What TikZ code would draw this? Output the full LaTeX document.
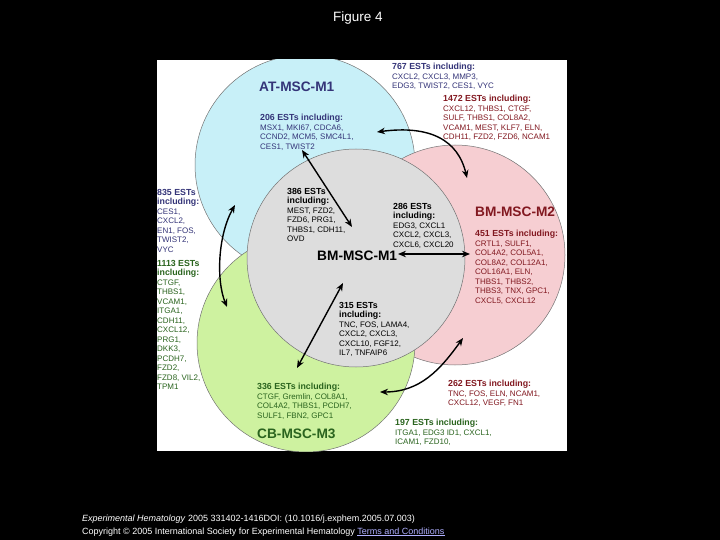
\documentclass[tikz,border=0pt]{standalone}
\usepackage{fontspec}
\setmainfont{Liberation Sans}
\usetikzlibrary{positioning,arrows.meta}
\definecolor{atfill}{RGB}{200,240,248}
\definecolor{bmfill}{RGB}{221,221,221}
\definecolor{mtwofill}{RGB}{246,206,210}
\definecolor{cbfill}{RGB}{206,242,160}
\definecolor{atblue}{RGB}{52,52,120}
\definecolor{mtwored}{RGB}{130,24,32}
\definecolor{cbgreen}{RGB}{42,100,30}
\definecolor{linkblue}{RGB}{175,175,255}
\newcommand{\hd}[1]{{\fontsize{8.8}{9.5}\selectfont\bfseries #1}}
\tikzstyle{venn} = [draw=black!55, line width=0.5pt]
\tikzstyle{setname} = [anchor=west, inner sep=0pt, font=\fontsize{13.7}{15}\selectfont\bfseries]
\tikzstyle{estlist} = [anchor=north west, inner sep=0pt, align=left, font=\fontsize{8}{9.5}\selectfont]
\tikzstyle{connect} = [line width=1.4pt, {Stealth[length=8pt,width=6.5pt]}-{Stealth[length=8pt,width=6.5pt]}]

\begin{document}
\begin{tikzpicture}[x=1pt,y=-1pt]
			\useasboundingbox (0,0) rectangle (720,540);
			\fill [black] (0,0) rectangle (720,540);
			\fill [white] (157,60) rectangle (567,451);

			\begin{scope}
			\clip (157,60) rectangle (567,451);
			\filldraw [venn, fill=atfill] (305,165) circle (110);
			\filldraw [venn, fill=mtwofill] (455,255) circle (110);
			\filldraw [venn, fill=cbfill] (306,343) circle (109);
			\filldraw [venn, fill=bmfill] (356,258) circle (109);
			\end{scope}

			\node (title) [text=white, font=\fontsize{13.5}{15}\selectfont] at (358,18) {Figure 4};

			\node (atname) [setname, text=atblue] at (259,87) {AT-MSC-M1};
			\node (bmname) [setname] at (317,256) {BM-MSC-M1};
			\node (mtwoname) [setname, text=mtwored] at (475,212) {BM-MSC-M2};
			\node (cbname) [setname, text=cbgreen] at (257,434) {CB-MSC-M3};

			\node (at206) [estlist, text=atblue] at (260,114) {\hd{206 ESTs including:}\\MSX1, MKI67, CDCA6,\\CCND2, MCM5, SMC4L1,\\CES1, TWIST2};
			\node (at767) [estlist, text=atblue] at (392,63) {\hd{767 ESTs including:}\\CXCL2, CXCL3, MMP3,\\EDG3, TWIST2, CES1, VYC};
			\node (at835) [estlist, text=atblue] at (157,189) {\hd{835 ESTs}\\\hd{including:}\\CES1,\\CXCL2,\\EN1, FOS,\\TWIST2,\\VYC};
			\node (cb1113) [estlist, text=cbgreen] at (157,260) {\hd{1113 ESTs}\\\hd{including:}\\CTGF,\\THBS1,\\VCAM1,\\ITGA1,\\CDH11,\\CXCL12,\\PRG1,\\DKK3,\\PCDH7,\\FZD2,\\FZD8, VIL2,\\TPM1};
			\node (bm386) [estlist] at (287,188) {\hd{386 ESTs}\\\hd{including:}\\MEST, FZD2,\\FZD6, PRG1,\\THBS1, CDH11,\\OVD};
			\node (bm286) [estlist] at (393,203) {\hd{286 ESTs}\\\hd{including:}\\EDG3, CXCL1\\CXCL2, CXCL3,\\CXCL6, CXCL20};
			\node (bm315) [estlist] at (339,302) {\hd{315 ESTs}\\\hd{including:}\\TNC, FOS, LAMA4,\\CXCL2, CXCL3,\\CXCL10, FGF12,\\IL7, TNFAIP6};
			\node (mt451) [estlist, text=mtwored] at (475,230) {\hd{451 ESTs including:}\\CRTL1, SULF1,\\COL4A2, COL5A1,\\COL8A2, COL12A1,\\COL16A1, ELN,\\THBS1, THBS2,\\THBS3, TNX, GPC1,\\CXCL5, CXCL12};
			\node (mt1472) [estlist, text=mtwored] at (443,95) {\hd{1472 ESTs including:}\\CXCL12, THBS1, CTGF,\\SULF, THBS1, COL8A2,\\VCAM1, MEST, KLF7, ELN,\\CDH11, FZD2, FZD6, NCAM1};
			\node (mt262) [estlist, text=mtwored] at (448,380) {\hd{262 ESTs including:}\\TNC, FOS, ELN, NCAM1,\\CXCL12, VEGF, FN1};
			\node (cb336) [estlist, text=cbgreen] at (257,383) {\hd{336 ESTs including:}\\CTGF, Gremlin, COL8A1,\\COL4A2, THBS1, PCDH7,\\SULF1, FBN2, GPC1};
			\node (cb197) [estlist, text=cbgreen] at (395,419) {\hd{197 ESTs including:}\\ITGA1, EDG3 ID1, CXCL1,\\ICAM1, FZD10,};

			\coordinate (a1) at (302,150);
			\coordinate (a2) at (352,227);
			\coordinate (b1) at (377,132);
			\coordinate (b2) at (467,178);
			\coordinate (c1) at (398,254);
			\coordinate (c2) at (470,254);
			\coordinate (d1) at (235,205);
			\coordinate (d2) at (227,307);
			\coordinate (e1) at (343,283);
			\coordinate (e2) at (297,368);
			\coordinate (f1) at (463,338);
			\coordinate (f2) at (380,392);

			\draw [connect] (a1) -- (a2);
			\draw [connect] (b1) .. controls (430,125) and (458,140) .. (b2);
			\draw [connect] (c1) -- (c2);
			\draw [connect] (d1) .. controls (218,235) and (216,280) .. (d2);
			\draw [connect] (e1) -- (e2);
			\draw [connect] (f1) .. controls (440,370) and (420,392) .. (f2);

			\node (source) [anchor=base west, inner sep=0pt, text=white, font=\fontsize{9}{10}\selectfont] at (82,521) {\textit{Experimental Hematology} 2005 331402-1416DOI: (10.1016/j.exphem.2005.07.003)};
			\node (rights) [anchor=base west, inner sep=0pt, text=white, font=\fontsize{9}{10}\selectfont] at (82,534) {Copyright © 2005 International Society for Experimental Hematology \textcolor{linkblue}{\underline{Terms and Conditions}}};
\end{tikzpicture}
\end{document}
